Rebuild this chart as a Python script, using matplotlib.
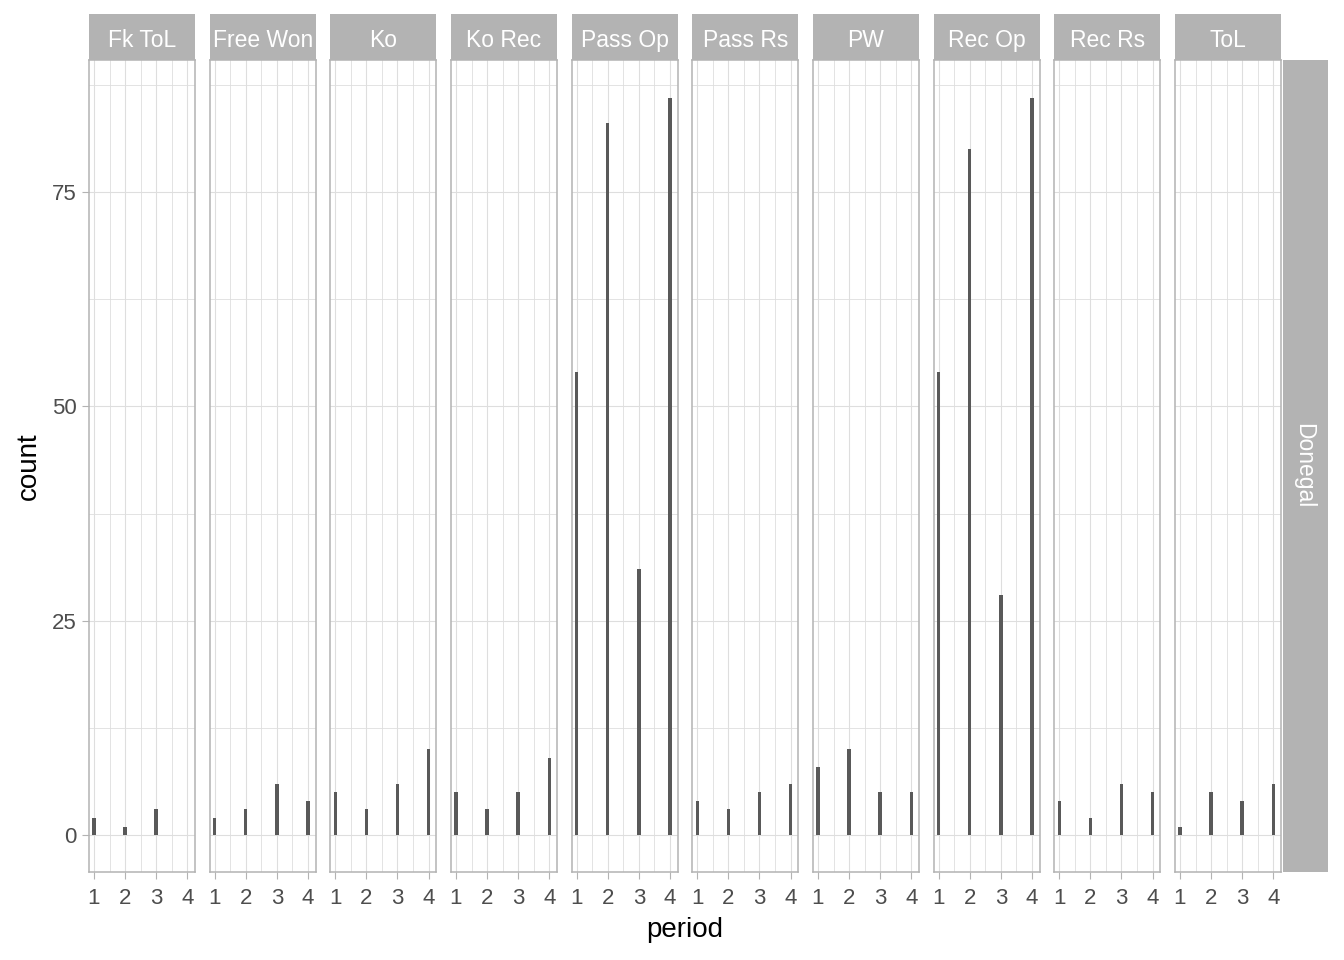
import matplotlib
matplotlib.use('Agg')
import matplotlib.pyplot as plt
from matplotlib.patches import Rectangle
from matplotlib.ticker import FixedLocator

plt.rcParams['font.family'] = ['Liberation Sans', 'DejaVu Sans']

facets = ["Fk ToL", "Free Won", "Ko", "Ko Rec", "Pass Op", "Pass Rs", "PW", "Rec Op", "Rec Rs", "ToL"]
periods = [1, 2, 3, 4]
fk_tol = [2, 1, 3, 0]
free_won = [2, 3, 6, 4]
ko = [5, 3, 6, 10]
ko_rec = [5, 3, 5, 9]
pass_op = [54, 83, 31, 86]
pass_rs = [4, 3, 5, 6]
pw = [8, 10, 5, 5]
rec_op = [54, 80, 28, 86]
rec_rs = [4, 2, 6, 5]
tol = [1, 5, 4, 6]
series = [fk_tol, free_won, ko, ko_rec, pass_op, pass_rs, pw, rec_op, rec_rs, tol]
row_label = "Donegal"
y_ticks = [0, 25, 50, 75]

W, H = 1344, 960
fig = plt.figure(figsize=(W / 100, H / 100), dpi=100)
fig.patch.set_facecolor('white')

grey70 = '#B3B3B3'
grey87 = '#DEDEDE'
grey30 = '#4D4D4D'
bar_col = '#595959'

left0 = 89
right_end = 1281
pw_px = 106
gap = (right_end - left0 - 10 * pw_px) / 9
top_px, bot_px = 60, 872
strip_top = 14

for i, (name, vals) in enumerate(zip(facets, series)):
    x0 = left0 + i * (pw_px + gap)
    ax = fig.add_axes([x0 / W, 1 - bot_px / H, pw_px / W, (bot_px - top_px) / H])
    ax.set_facecolor('white')
    ax.bar(periods, vals, width=0.11, color=bar_col, zorder=3)
    ax.set_xlim(0.84, 4.25)
    ax.set_ylim(-4.3, 90.4)
    ax.xaxis.set_major_locator(FixedLocator(periods))
    ax.xaxis.set_minor_locator(FixedLocator([1.5, 2.5, 3.5]))
    ax.yaxis.set_major_locator(FixedLocator(y_ticks))
    ax.yaxis.set_minor_locator(FixedLocator([12.5, 37.5, 62.5, 87.5]))
    ax.grid(which='major', color=grey87, linewidth=0.8, zorder=0)
    ax.grid(which='minor', color=grey87, linewidth=0.6, zorder=0)
    ax.set_axisbelow(True)
    for s in ax.spines.values():
        s.set_color(grey70)
        s.set_linewidth(1.1)
        s.set_zorder(4)
    ax.tick_params(axis='both', which='major', color=grey70, length=5, width=0.8,
                   labelcolor=grey30, labelsize=16, pad=4)
    ax.tick_params(axis='x', which='major', pad=6.5)
    ax.tick_params(axis='both', which='minor', length=0)
    if i != 0:
        ax.tick_params(axis='y', which='major', left=False, labelleft=False)
    fig.patches.append(Rectangle((x0 / W, 1 - top_px / H), pw_px / W, (top_px - strip_top) / H,
                                 transform=fig.transFigure, facecolor=grey70, edgecolor='none'))
    fig.text((x0 + pw_px / 2) / W, 1 - 47 / H, name, color='white',
             fontsize=16.5, ha='center', va='baseline')

rs_x0 = right_end + 2
rs_w = 1328 - rs_x0
fig.patches.append(Rectangle((rs_x0 / W, 1 - bot_px / H), rs_w / W, (bot_px - top_px) / H,
                             transform=fig.transFigure, facecolor=grey70, edgecolor='none'))
fig.text((rs_x0 + rs_w / 2 - 2) / W, 1 - (top_px + bot_px) / 2 / H, row_label, color='white',
         fontsize=16.5, ha='center', va='center', rotation=-90)

fig.text(29 / W, 1 - 466 / H, 'count', fontsize=20, rotation=90, ha='center', va='center', color='black')
fig.text(685 / W, 1 - 930 / H, 'period', fontsize=20, ha='center', va='center', color='black')

fig.savefig('out.png', dpi=100)
